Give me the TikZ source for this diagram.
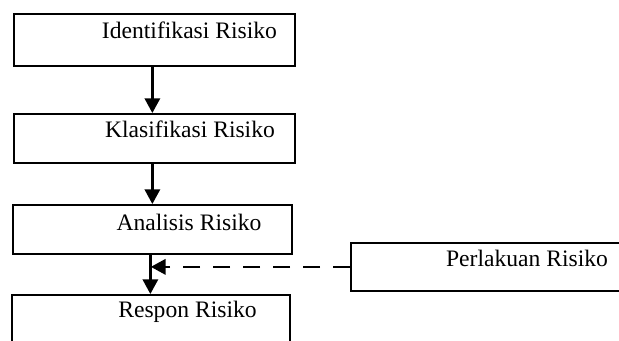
\documentclass[tikz,border=0pt]{standalone}
\usepackage{fontspec}
\setmainfont{Liberation Serif}
\usetikzlibrary{arrows.meta}
\tikzset{
  box/.style={draw,line width=1.3pt,anchor=north west,inner sep=0pt},
  lbl/.style={anchor=base,inner sep=0pt,font=\fontsize{17.7}{20}\selectfont},
  arr/.style={line width=1.7pt,-{Triangle[length=11pt,width=11.5pt]}},
}
\begin{document}
\begin{tikzpicture}[x=0.75pt,y=-0.75pt]
 \useasboundingbox (0,0) rectangle (619,340);
 \clip (0,0) rectangle (619,340);
 % boxes
 \node[box,minimum width=210.75pt,minimum height=39pt] (id) at (13,13) {};
 \node[box,minimum width=210.75pt,minimum height=36.75pt] (kl) at (13,113) {};
 \node[box,minimum width=209.25pt,minimum height=36.75pt] (an) at (12,204) {};
 \node[box,minimum width=208.5pt,minimum height=45pt] (re) at (11,294) {};
 \node[box,minimum width=225pt,minimum height=36pt] (pr) at (350,242) {};
 % texts
 \node[lbl] (tid) at (189.5,38) {Identifikasi Risiko};
 \node[lbl] (tkl) at (190,137) {Klasifikasi Risiko};
 \node[lbl] (tan) at (189,230) {Analisis Risiko};
 \node[lbl] (tre) at (187.5,317) {Respon Risiko};
 \node[lbl] (tpr) at (527,266) {Perlakuan Risiko};
 % arrows
 \draw[arr] (id.south -| an.north) -- (kl.north -| an.north);
 \draw[arr] (kl.south -| an.north) -- (an.north);
 \draw[arr] ([xshift=-1.5pt]an.south) -- ([xshift=-1.5pt]an.south |- re.north);
 \draw[arr,dash pattern=on 12.5pt off 10pt] (pr.west) -- (pr.west -| re.north);
\end{tikzpicture}
\end{document}
